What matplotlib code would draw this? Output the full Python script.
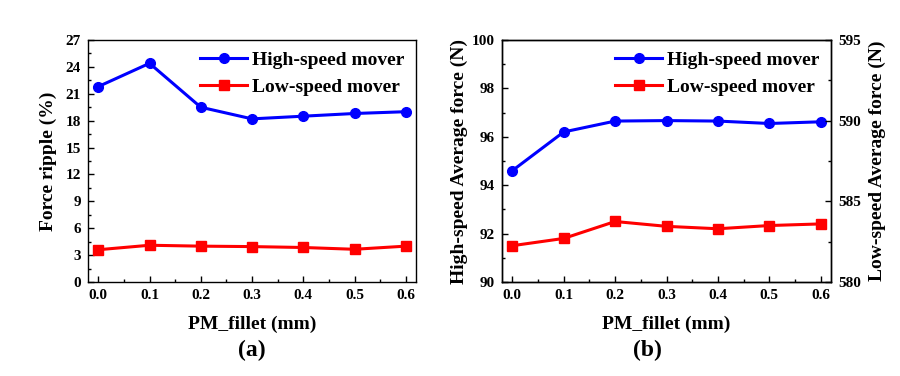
import numpy as np
import matplotlib.pyplot as plt
from matplotlib.ticker import MultipleLocator, AutoMinorLocator

plt.rcParams['font.family'] = ['Liberation Serif', 'DejaVu Serif']
plt.rcParams['font.weight'] = 'bold'

# 数据
fillet = [0.0, 0.1, 0.2, 0.3, 0.4, 0.5, 0.6]
ripple_high = [21.8, 24.4, 19.5, 18.2, 18.5, 18.8, 19.0]
ripple_low = [3.6, 4.1, 4.0, 3.95, 3.85, 3.65, 4.0]
force_high = [94.6, 96.2, 96.65, 96.67, 96.65, 96.55, 96.62]
force_low = [582.25, 582.7, 583.75, 583.45, 583.3, 583.5, 583.6]

blue = '#0000ff'
red = '#ff0000'
fs_tick = 11
fs_label = 14


def style(ax):
    ax.tick_params(direction='in', which='both', labelsize=fs_tick, width=1, pad=5)
    ax.tick_params(which='major', length=4)
    ax.tick_params(which='minor', length=2)
    for lab in ax.get_xticklabels() + ax.get_yticklabels():
        lab.set_fontweight('bold')
    for s in ax.spines.values():
        s.set_linewidth(1)


fig = plt.figure(figsize=(9, 3.76), dpi=100)

# (a)
ax1 = fig.add_axes([88 / 900, 1 - 282 / 376, 328 / 900, 242 / 376])
l1, = ax1.plot(fillet, ripple_high, '-o', color=blue, lw=2.2, ms=7, label='High-speed mover')
l2, = ax1.plot(fillet, ripple_low, '-s', color=red, lw=2.2, ms=7, label='Low-speed mover')
ax1.set_xlim(-0.02, 0.62)
ax1.set_ylim(0, 27)
ax1.set_xticks(fillet)
ax1.set_xticklabels(['%.1f' % v for v in fillet])
ax1.xaxis.set_minor_locator(AutoMinorLocator(2))
ax1.yaxis.set_major_locator(MultipleLocator(3))
ax1.yaxis.set_minor_locator(AutoMinorLocator(2))
ax1.set_xlabel('PM_fillet (mm)', fontsize=fs_label, fontweight='bold', labelpad=10)
ax1.set_ylabel('Force ripple (%)', fontsize=fs_label, fontweight='bold', labelpad=6)
style(ax1)
ax1.legend(loc='upper right', frameon=False, handlelength=2.4,
           handletextpad=0.25, borderaxespad=0.2, labelspacing=0.45,
           prop={'weight': 'bold', 'size': 14})
fig.text(252 / 900, 1 - 350 / 376, '(a)', fontsize=17, fontweight='bold', ha='center', va='center')

# (b)
ax2 = fig.add_axes([502 / 900, 1 - 282 / 376, 329 / 900, 242 / 376])
ax3 = ax2.twinx()
h1, = ax2.plot(fillet, force_high, '-o', color=blue, lw=2.2, ms=7, label='High-speed mover')
h2, = ax3.plot(fillet, force_low, '-s', color=red, lw=2.2, ms=7, label='Low-speed mover')
ax2.set_xlim(-0.02, 0.62)
ax2.set_ylim(90, 100)
ax3.set_ylim(580, 595)
ax2.set_xticks(fillet)
ax2.set_xticklabels(['%.1f' % v for v in fillet])
ax2.xaxis.set_minor_locator(AutoMinorLocator(2))
ax2.yaxis.set_major_locator(MultipleLocator(2))
ax2.yaxis.set_minor_locator(AutoMinorLocator(2))
ax3.yaxis.set_major_locator(MultipleLocator(5))
ax3.yaxis.set_minor_locator(AutoMinorLocator(2))
ax2.set_xlabel('PM_fillet (mm)', fontsize=fs_label, fontweight='bold', labelpad=10)
ax2.set_ylabel('High-speed Average force (N)', fontsize=fs_label, fontweight='bold', labelpad=3)
ax3.set_ylabel('Low-speed Average force (N)', fontsize=fs_label, fontweight='bold', labelpad=6)
style(ax2)
style(ax3)
ax2.legend([h1, h2], ['High-speed mover', 'Low-speed mover'], loc='upper right',
           frameon=False, handlelength=2.4, handletextpad=0.25, borderaxespad=0.2,
           labelspacing=0.45, prop={'weight': 'bold', 'size': 14})
fig.text(647 / 900, 1 - 350 / 376, '(b)', fontsize=17, fontweight='bold', ha='center', va='center')

fig.savefig('out.png', dpi=100)
